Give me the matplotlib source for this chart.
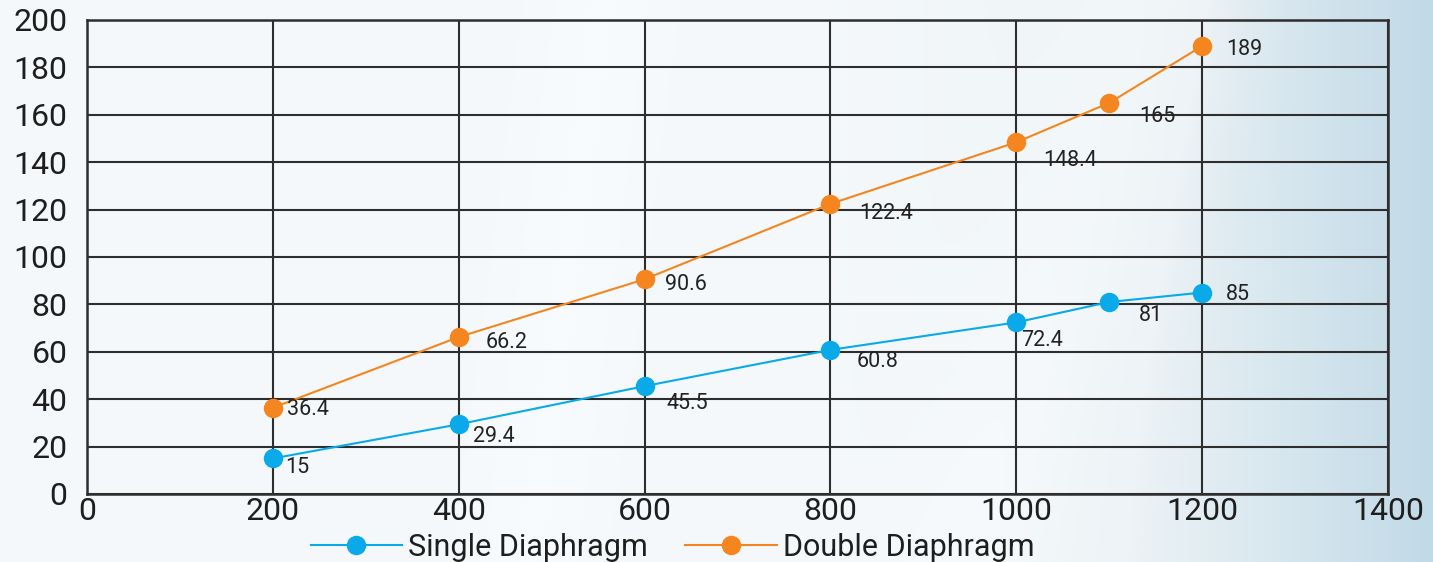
import numpy as np
import matplotlib
matplotlib.use('Agg')
from matplotlib import pyplot as plt
from matplotlib.colors import LinearSegmentedColormap

plt.rcParams['font.family'] = ['Roboto', 'DejaVu Sans']

pressure = [200, 400, 600, 800, 1000, 1100, 1200]
single = [15, 29.4, 45.5, 60.8, 72.4, 81, 85]
double = [36.4, 66.2, 90.6, 122.4, 148.4, 165, 189]

# label offsets in pixels (dx, dy) relative to each point
single_off = [(12, -9), (14, -12), (22, -17), (26, -12), (5, -18), (30, -13), (24, -2)]
double_off = [(14, -2), (27, -5), (20, -5), (29, -10), (27, -18), (30, -14), (24, -3)]

blue = '#0aaaea'
orange = '#f5861f'
grid_col = '#2e2e2e'

fig = plt.figure(figsize=(14.33, 5.62), dpi=100)

# background: pale blue-grey, soft light streaks, deeper blue towards the right
bg = fig.add_axes([0, 0, 1, 1], zorder=-1)
w, h = 1433, 281
xx, yy = np.meshgrid(np.linspace(0, 1, w), np.linspace(0, 1, h))
val = 0.18 + 0.82 * np.clip((xx - 0.58) / 0.42, 0, 1) ** 1.3
val -= 0.18 * np.exp(-((xx + 0.05 * yy - 0.42) / 0.05) ** 2)
val -= 0.22 * np.exp(-((xx + 0.12 * yy - 0.80) / 0.06) ** 2)
cmap = LinearSegmentedColormap.from_list('bg', ['#f8fbfd', '#edf3f6', '#c1dae7'])
bg.imshow(np.clip(val, 0, 1), cmap=cmap, aspect='auto', extent=[0, 1, 0, 1],
          vmin=0, vmax=1, origin='upper')
bg.axis('off')

ax = fig.add_axes([0.0607, 0.121, 0.9079, 0.8435])
ax.patch.set_alpha(0)

ax.plot(pressure, single, color=blue, lw=1.5, marker='o', ms=13, zorder=3,
        label='Single Diaphragm')
ax.plot(pressure, double, color=orange, lw=1.5, marker='o', ms=13, zorder=3,
        label='Double Diaphragm')

for xs, ys, offs in [(pressure, single, single_off), (pressure, double, double_off)]:
    for x, y, (dx, dy) in zip(xs, ys, offs):
        ax.annotate(f'{y:g}', (x, y), xytext=(dx * 0.72, dy * 0.72), textcoords='offset points',
                    ha='left', va='center', fontsize=15.5, color='#222222', zorder=4)

ax.set_xlim(0, 1400)
ax.set_ylim(0, 200)
ax.set_xticks(range(0, 1401, 200))
ax.set_yticks(range(0, 201, 20))
ax.grid(True, color=grid_col, lw=1.5, zorder=1)
ax.set_axisbelow(True)
for s in ax.spines.values():
    s.set_color(grid_col)
    s.set_linewidth(1.8)
ax.tick_params(length=0, labelsize=23, colors='#1e1e1e')
ax.tick_params(axis='y', pad=14)
ax.tick_params(axis='x', pad=2)

ax.legend(loc='center', bbox_to_anchor=(0.45, -0.113), ncol=2, frameon=False,
          fontsize=22, handlelength=3.0, handletextpad=0.2, columnspacing=1.2,
          labelcolor='#1e1e1e', borderpad=0, borderaxespad=0)

fig.savefig('out.png', dpi=100)
